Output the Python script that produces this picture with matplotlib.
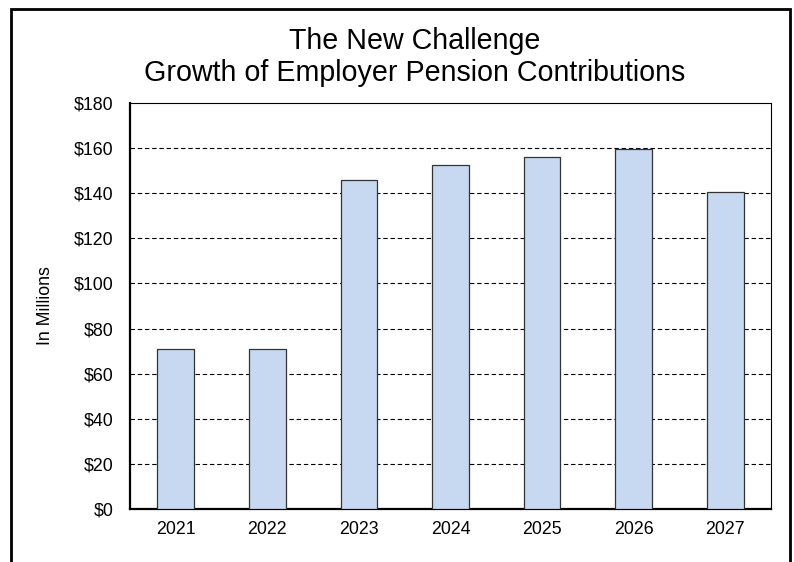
import matplotlib
matplotlib.use("Agg")
import matplotlib.pyplot as plt
from matplotlib.patches import Rectangle
from matplotlib.ticker import FuncFormatter, MultipleLocator

plt.rcParams["font.family"] = ["Liberation Sans", "DejaVu Sans"]

# employer pension contributions, $ millions
years = ["2021", "2022", "2023", "2024", "2025", "2026", "2027"]
contributions = [71, 71, 146, 152.5, 156, 159.6, 140.7]

fig = plt.figure(figsize=(7.94, 5.62), dpi=100)
ax = fig.add_axes([130 / 794, 1 - 509 / 562, 641 / 794, 406 / 562])

ax.bar(range(len(years)), contributions, width=0.40, color="#C6D9F1",
       edgecolor="#333333", linewidth=0.9, zorder=3)

ax.set_xlim(-0.5, len(years) - 0.5)
ax.set_ylim(0, 180)
ax.set_xticks(range(len(years)))
ax.set_xticklabels(years)
ax.yaxis.set_major_locator(MultipleLocator(20))
ax.yaxis.set_major_formatter(FuncFormatter(lambda v, _: f"${v:.0f}"))
ax.tick_params(length=0, labelsize=12.8, pad=9)
ax.tick_params(axis="y", pad=12)

# dashed gridlines
for v in range(20, 180, 20):
    ax.axhline(v, color="black", linewidth=0.8, linestyle=(0, (4, 2.5)), zorder=1)

for s in ["top", "right"]:
    ax.spines[s].set_linewidth(0.8)
for s in ["left", "bottom"]:
    ax.spines[s].set_linewidth(1.6)

ax.set_ylabel("In Millions", fontsize=12.8, labelpad=14)

fig.text(415 / 794, 1 - 57 / 562,
         "The New Challenge\nGrowth of Employer Pension Contributions",
         ha="center", va="center", fontsize=20.6, linespacing=1.22)

# outer frame
fig.patches.append(Rectangle((11 / 794, -0.05), 779 / 794, 1.05 - 9 / 562,
                             transform=fig.transFigure, fill=False,
                             edgecolor="black", linewidth=2))

fig.savefig("out.png", dpi=100)
